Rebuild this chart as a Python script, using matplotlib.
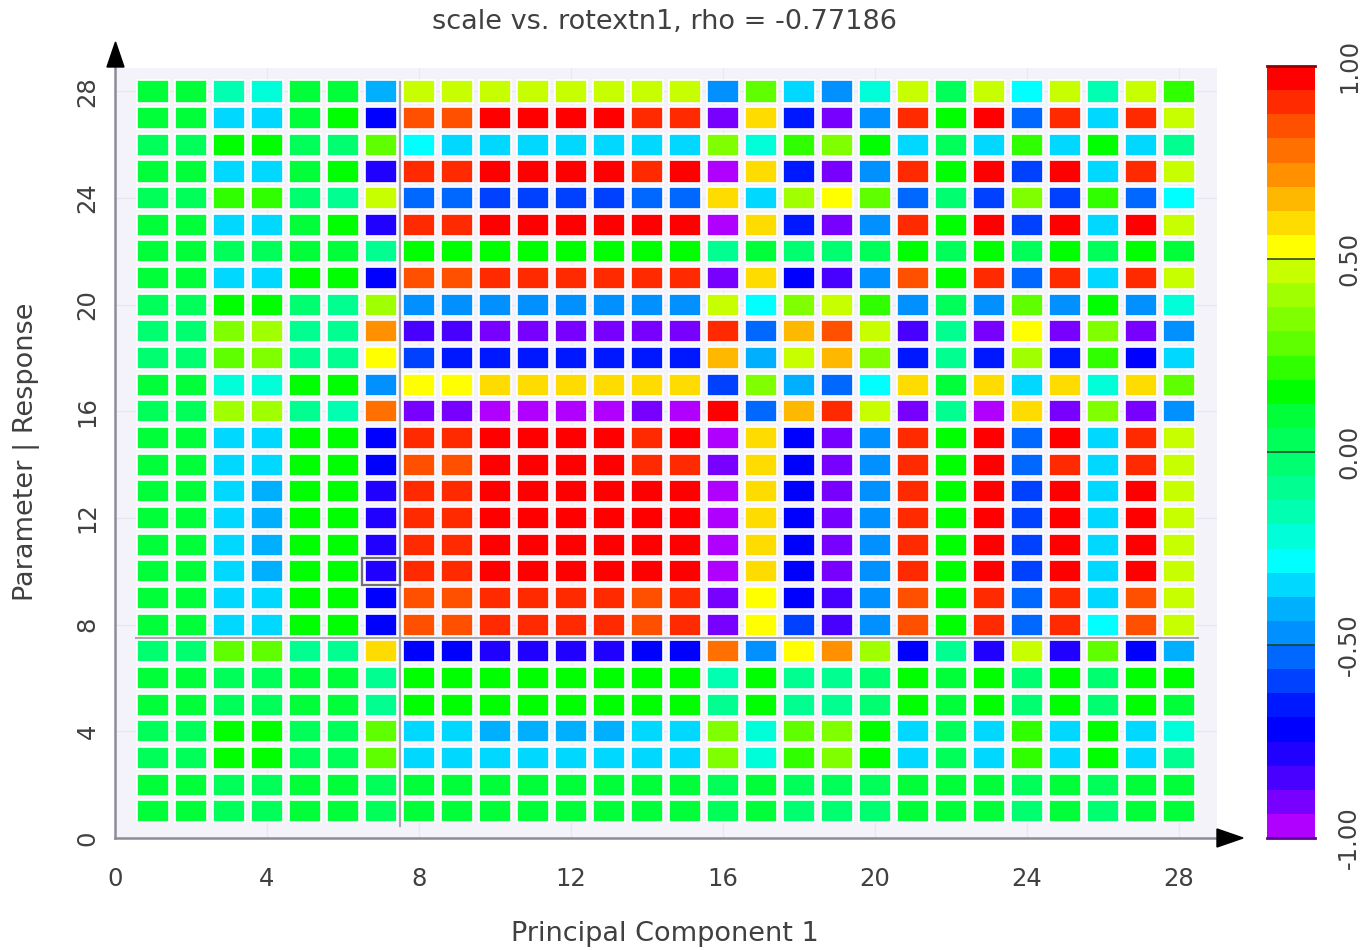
import numpy as np
import matplotlib
matplotlib.use("Agg")
import matplotlib.pyplot as plt
from matplotlib.colors import ListedColormap, BoundaryNorm
from matplotlib.patches import Polygon, Rectangle

title = "scale vs. rotextn1, rho = -0.77186"
xlabel = "Principal Component 1"
ylabel = "Parameter | Response"
ticks = [0, 4, 8, 12, 16, 20, 24, 28]
cbar_ticks = [-1.0, -0.5, 0.0, 0.5, 1.0]
columns = list(range(1, 29))
rows = list(range(1, 29))

band_colors = ["#B000FF", "#7800FF", "#4800FF", "#2000FF", "#0000FF", "#0018FF", "#0040FF", "#0068FF",
               "#0090FF", "#00B0FF", "#00D8FF", "#00FFFF", "#00FFD8", "#00FFB0", "#00FF90", "#00FF70",
               "#00FF58", "#00FF38", "#00FF00", "#30FF00", "#60FF00", "#80FF00", "#A0FF00", "#C8FF00",
               "#FFFF00", "#FFDC00", "#FFB800", "#FF9000", "#FF7000", "#FF5000", "#FF2A00", "#FF0000"]

# listed from the top row (28) down to the bottom row (1)
values = [
 [.09,.09,-.16,-.22,.09,.09,-.41,.47,.47,.47,.47,.47,.47,.47,.47,-.47,.28,-.34,-.47,-.22,.47,.03,.47,-.28,.47,-.16,.47,.22],
 [.09,.09,-.34,-.34,.09,.16,-.72,.84,.84,.97,.97,.97,.97,.91,.91,-.91,.59,-.66,-.91,-.47,.91,.16,.97,-.53,.91,-.34,.91,.47],
 [.03,.03,.16,.16,.03,-.03,.28,-.28,-.34,-.34,-.34,-.34,-.34,-.34,-.34,.34,-.22,.22,.34,.16,-.34,.03,-.34,.22,-.34,.16,-.34,-.09],
 [.09,.09,-.34,-.34,.09,.16,-.78,.91,.91,.97,.97,.97,.97,.91,.97,-.97,.59,-.66,-.91,-.47,.91,.16,.97,-.59,.97,-.34,.91,.47],
 [.03,.03,.22,.22,-.03,-.09,.47,-.53,-.53,-.59,-.59,-.59,-.62,-.53,-.53,.59,-.34,.41,.53,.28,-.53,-.03,-.59,.34,-.59,.22,-.53,-.28],
 [.09,.09,-.34,-.34,.09,.16,-.78,.91,.91,.97,.97,.97,.97,.97,.97,-.97,.59,-.66,-.91,-.47,.91,.16,.97,-.59,.97,-.34,.97,.47],
 [.09,.09,.03,.03,.09,.09,-.09,.16,.16,.16,.16,.16,.16,.16,.16,-.09,.09,-.03,-.03,.03,.16,.03,.16,.03,.16,.03,.16,.09],
 [.09,.09,-.34,-.34,.16,.16,-.72,.84,.84,.91,.91,.91,.91,.91,.91,-.91,.59,-.72,-.84,-.47,.84,.16,.91,-.53,.91,-.34,.91,.47],
 [.03,.03,.16,.16,-.03,-.09,.41,-.47,-.47,-.47,-.47,-.47,-.47,-.47,-.47,.47,-.28,.34,.47,.22,-.47,.03,-.47,.25,-.47,.16,-.47,-.22],
 [-.03,-.03,.34,.38,-.09,-.09,.72,-.84,-.84,-.91,-.91,-.91,-.91,-.91,-.91,.91,-.53,.66,.84,.47,-.84,-.09,-.91,.53,-.91,.34,-.91,-.47],
 [-.03,-.03,.28,.32,-.09,-.09,.53,-.59,-.66,-.66,-.66,-.66,-.66,-.66,-.66,.66,-.41,.47,.66,.34,-.66,-.09,-.66,.41,-.66,.22,-.72,-.34],
 [.09,.09,-.22,-.22,.16,.16,-.47,.53,.53,.59,.59,.59,.59,.59,.59,-.59,.34,-.41,-.53,-.28,.59,.09,.59,-.34,.59,-.22,.59,.28],
 [.03,.03,.38,.41,-.09,-.16,.78,-.91,-.91,-.97,-.97,-.97,-.97,-.91,-.97,.97,-.53,.66,.91,.47,-.91,-.09,-.97,.59,-.91,.34,-.91,-.47],
 [.09,.09,-.34,-.34,.16,.16,-.72,.91,.91,.97,.97,.97,.97,.91,.97,-.97,.59,-.72,-.91,-.47,.91,.16,.97,-.53,.97,-.34,.91,.47],
 [.09,.09,-.34,-.34,.16,.16,-.72,.84,.84,.97,.97,.97,.97,.91,.91,-.91,.59,-.72,-.91,-.47,.91,.16,.97,-.53,.91,-.34,.91,.47],
 [.09,.09,-.34,-.38,.16,.16,-.78,.91,.91,.97,.97,.97,.97,.97,.97,-.97,.59,-.72,-.91,-.47,.91,.16,.97,-.59,.97,-.34,.97,.47],
 [.09,.09,-.34,-.41,.16,.16,-.78,.91,.91,.97,.97,.97,.97,.97,.97,-.97,.59,-.72,-.91,-.47,.91,.16,.97,-.59,.97,-.34,.97,.47],
 [.09,.09,-.34,-.41,.16,.16,-.78,.91,.91,.97,.97,.97,.97,.97,.97,-.97,.59,-.72,-.91,-.47,.91,.16,.97,-.59,.97,-.34,.97,.47],
 [.09,.09,-.34,-.41,.16,.16,-.78,.91,.91,.97,.97,.97,.97,.97,.97,-.97,.59,-.72,-.91,-.47,.91,.16,.97,-.59,.97,-.34,.97,.47],
 [.09,.09,-.34,-.34,.16,.16,-.72,.84,.84,.91,.91,.91,.91,.84,.91,-.91,.53,-.72,-.84,-.47,.84,.16,.91,-.53,.91,-.34,.84,.47],
 [.09,.09,-.34,-.34,.16,.16,-.72,.84,.84,.91,.91,.91,.91,.84,.91,-.91,.53,-.59,-.84,-.47,.84,.16,.91,-.53,.91,-.28,.84,.47],
 [-.03,-.03,.28,.28,-.09,-.09,.59,-.72,-.72,-.78,-.78,-.78,-.78,-.72,-.72,.78,-.47,.53,.72,.41,-.72,-.09,-.78,.47,-.78,.28,-.72,-.41],
 [.09,.09,.03,.03,.09,.09,-.09,.16,.16,.16,.16,.16,.16,.16,.16,-.16,.16,-.09,-.09,-.03,.16,.09,.16,-.03,.16,-.03,.16,.16],
 [.09,.09,.03,.03,.09,.09,-.09,.16,.16,.16,.16,.16,.16,.16,.16,-.09,.16,-.09,-.09,-.03,.16,.09,.16,-.03,.16,-.03,.16,.09],
 [.03,.03,.16,.16,.03,.03,.28,-.34,-.34,-.41,-.41,-.41,-.41,-.34,-.34,.34,-.22,.25,.34,.16,-.34,.03,-.34,.22,-.34,.16,-.34,-.22],
 [.03,.03,.16,.16,.03,.03,.28,-.34,-.34,-.34,-.34,-.34,-.34,-.34,-.34,.34,-.22,.22,.34,.16,-.34,.03,-.34,.22,-.34,.16,-.34,-.09],
 [.09,.09,.03,.03,.09,.09,.03,.09,.09,.09,.09,.09,.09,.09,.09,.03,.09,.03,.03,.03,.09,.09,.09,.03,.09,.03,.09,.09],
 [.09,.09,.03,.03,.09,.09,.03,.09,.09,.09,.09,.09,.09,.09,.09,.03,.09,-.03,-.03,-.03,.09,.09,.09,-.03,.09,-.03,.09,.09],
]

W, H = 1364, 950
TEXT = "#404040"
FS_LABEL = 19.5
FS_TICK = 17.5


def frac(x, y):
    return x / W, 1 - y / H


fig = plt.figure(figsize=(W / 100, H / 100), dpi=100)
x0, y0 = frac(115, 838)
x1, y1 = frac(1217, 68)
ax = fig.add_axes([x0, y0, x1 - x0, y1 - y0], facecolor="#F5F3FA")
ax.set_xlim(0, 29)
ax.set_ylim(0, 28.88)

bounds = np.linspace(-1, 1, len(band_colors) + 1)
cmap = ListedColormap(band_colors)
norm = BoundaryNorm(bounds, cmap.N)

ax.grid(True, color="#E8E6F3", lw=1)
ax.set_axisbelow(True)
for r, row_vals in zip(rows[::-1], values):
    ax.bar(columns, [0.83] * len(columns), width=0.86, bottom=r - 0.415,
           color=cmap(norm(row_vals)), edgecolor="#FFFFFF", linewidth=1.2, zorder=2)

ax.plot([7.5, 7.5], [0.45, 28.35], color="#A8A8AE", lw=1.5, zorder=3)
ax.plot([0.55, 28.5], [7.5, 7.5], color="#A8A8AE", lw=1.5, zorder=3)
ax.add_patch(Rectangle((6.5, 9.5), 1, 1, fill=False, ec="#707078", lw=1.6, zorder=4))

ax.set_xticks(ticks)
ax.set_yticks(ticks)
ax.tick_params(length=0, labelsize=FS_TICK, labelcolor=TEXT)
ax.tick_params(axis="x", pad=21)
ax.tick_params(axis="y", pad=11)
for lab in ax.get_yticklabels():
    lab.set_rotation(90)
    lab.set_va("center")
ax.spines[["top", "right"]].set_visible(False)
ax.spines[["left", "bottom"]].set_color("#8C8C9A")
ax.spines[["left", "bottom"]].set_linewidth(1.8)

fig.add_artist(Polygon([frac(107, 67), frac(124, 67), frac(115.5, 42)], closed=True, color="black"))
fig.add_artist(Polygon([frac(1217, 829), frac(1217, 847), frac(1243, 838)], closed=True, color="black"))

fig.text(*frac(665, 22), title, ha="center", va="center", fontsize=FS_LABEL, color=TEXT)
fig.text(*frac(665, 934), xlabel, ha="center", va="center", fontsize=FS_LABEL, color=TEXT)
fig.text(*frac(27, 452), ylabel, ha="center", va="center", rotation=90, fontsize=FS_LABEL, color=TEXT)

cx0, cy0 = frac(1267, 838)
cx1, cy1 = frac(1315, 66)
cax = fig.add_axes([cx0, cy0, cx1 - cx0, cy1 - cy0])
centers = (bounds[:-1] + bounds[1:]) / 2
cax.pcolormesh([0, 1], bounds, centers[:, None], cmap=cmap, norm=norm)
cax.set_xlim(0, 1)
cax.set_ylim(-1, 1)
cax.set_xticks([])
cax.set_yticks(cbar_ticks)
cax.yaxis.tick_right()
cax.set_yticklabels([f"{t:.2f}" for t in cbar_ticks], rotation=90, va="center", fontsize=FS_TICK, color=TEXT)
cax.tick_params(axis="y", length=0, pad=16)
for s in cax.spines.values():
    s.set_visible(False)
for t in cbar_ticks[1:-1]:
    cax.axhline(t, color="#204020", lw=1.3, alpha=0.85)
cax.axhline(1, color="#900000", lw=2, clip_on=False)
cax.axhline(-1, color="#600090", lw=2, clip_on=False)

fig.savefig("out.png", dpi=100)
